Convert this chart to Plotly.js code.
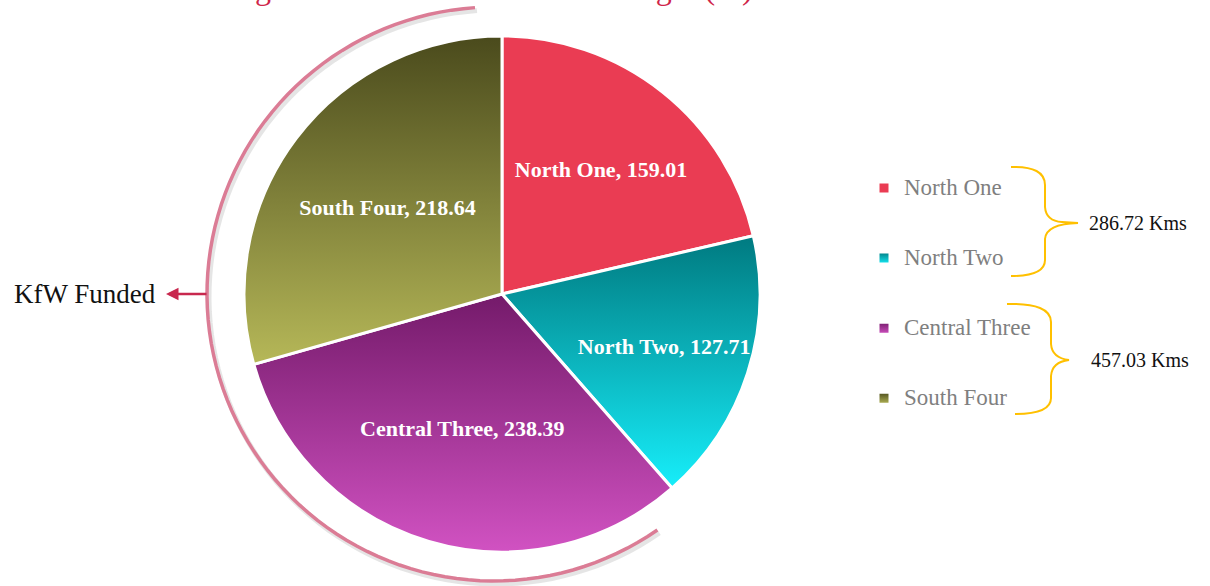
<!DOCTYPE html>
<html><head><meta charset="utf-8">
<script src="https://cdn.plot.ly/plotly-3.0.1.min.js"></script>
<style>html,body{margin:0;padding:0;background:#fff;} #chart{width:1210px;height:586px;}</style>
</head><body><div id="chart"></div>
<script>
// ---- data ----
const categories = ["North One", "North Two", "Central Three", "South Four"];
const values = [159.01, 127.71, 238.39, 218.64];
const colorsTop = ["#EA3C53", "#007A80", "#741A6A", "#4A4A1C"];
const colorsBottom = ["#EA3C53", "#17EEFA", "#D152C2", "#B6B858"];
const groupTotals = ["286.72 Kms", "457.03 Kms"];
const titleText = "Segment Wise Share of Road Length (%)";
const sideLabel = "KfW Funded";

// ---- helpers ----
const W = 1210, H = 586;
const X = x => x / W, Y = y => 1 - y / H;
const SERIF = "Liberation Serif, Times New Roman, serif";
function hex2rgb(h){h=h.replace('#','');return [0,2,4].map(k=>parseInt(h.substr(k,2),16));}
function mid(a,b){const A=hex2rgb(a),B=hex2rgb(b);return 'rgb('+A.map((v,k)=>Math.round((v+B[k])/2)).join(',')+')';}
const midColors = colorsTop.map((c,i)=>mid(c,colorsBottom[i]));
const legendLabels = categories.map(c => "\u00a0<br><span style='font-size:23px'>" + c + "</span><br>\u00a0");

// arc path (pixel geometry -> paper)
function arcPath(cx, cy, r, a0, a1, dx, dy){
  const n = 90; let s = '';
  for(let k=0;k<=n;k++){
    const a = (a0 + (a1-a0)*k/n) * Math.PI/180;
    const x = cx + r*Math.cos(a) + (dx||0), y = cy + r*Math.sin(a) + (dy||0);
    s += (k===0?'M':'L') + X(x).toFixed(5) + ',' + Y(y).toFixed(5) + ' ';
  }
  return s;
}
function P(pts){
  return pts.map(p => p[0] + p.slice(1).reduce((acc,v,j)=>{acc.push(j%2===0?X(v).toFixed(5):Y(v).toFixed(5));return acc;},[]).join(',')).join(' ');
}
const brace1 = P([['M',1011,167],['Q',1045,166,1045,185],['L',1045,207],['Q',1046,221,1062,222],['L',1078,223],['Q',1046,224,1045,239],['L',1045,260],['Q',1045,276,1011,276]]);
const brace2 = P([['M',1007,304],['Q',1051,303,1051,322],['L',1051,344],['Q',1052,358,1069,360],['Q',1052,362,1051,376],['L',1051,398],['Q',1051,414,1015,414]]);

const trace = {
  type: 'pie',
  labels: legendLabels,
  values: values,
  text: categories,
  texttemplate: '%{text}, %{value:.2f}',
  textposition: 'inside',
  insidetextorientation: 'horizontal',
  sort: false,
  direction: 'clockwise',
  rotation: 0,
  marker: {colors: midColors, line: {color: '#ffffff', width: 3}},
  textfont: {family: SERIF, size: 22, color: '#ffffff', weight: 'bold'},
  domain: {x: [X(244), X(760)], y: [Y(552), Y(36)]},
  hoverinfo: 'skip',
  showlegend: true
};

const layout = {
  width: W, height: H,
  margin: {l:0, r:0, t:0, b:0},
  paper_bgcolor: '#ffffff',
  showlegend: true,
  legend: {x: X(864), xanchor: 'left', y: Y(148), yanchor: 'top',
           font: {family: SERIF, size: 17.2, color: '#7f7f7f'}, bgcolor: 'rgba(0,0,0,0)'},
  shapes: [
    {type:'path', xref:'paper', yref:'paper', path: arcPath(494,294,287,266.2,55.3,2,3), line:{color:'rgba(0,0,0,0.10)', width:5}},
    {type:'path', xref:'paper', yref:'paper', path: arcPath(494,294,287,266.2,55.3), line:{color:'#DB7C95', width:3.5}},
    {type:'path', xref:'paper', yref:'paper', path: brace1, line:{color:'#FFC000', width:2}},
    {type:'path', xref:'paper', yref:'paper', path: brace2, line:{color:'#FFC000', width:2}}
  ],
  annotations: [
    {xref:'paper', yref:'paper', x: X(488), y: 1, xanchor:'center', yanchor:'bottom', yshift:-8,
     text: titleText, showarrow:false, font:{family: SERIF, size:32, color:'#D0254A'}},
    {xref:'paper', yref:'paper', x: X(166), y: Y(294), ax: 42, ay: 0, text:'', showarrow:true,
     arrowhead:2, arrowsize:1, arrowwidth:2.5, arrowcolor:'#C8284E', standoff:0, startstandoff:0},
    {xref:'paper', yref:'paper', x: X(158), y: Y(294), xanchor:'right', yanchor:'middle', text: sideLabel,
     showarrow:false, font:{family: SERIF, size:27, color:'#111111'}},
    {xref:'paper', yref:'paper', x: X(1087), y: Y(223), xanchor:'left', yanchor:'middle', text: groupTotals[0],
     showarrow:false, font:{family: SERIF, size:20, color:'#111111'}},
    {xref:'paper', yref:'paper', x: X(1089), y: Y(360), xanchor:'left', yanchor:'middle', text: groupTotals[1],
     showarrow:false, font:{family: SERIF, size:20, color:'#111111'}}
  ]
};

function applyGradients(gd){
  const NS = 'http://www.w3.org/2000/svg';
  const svg = gd.querySelector('svg.main-svg');
  let defs = svg.querySelector('defs');
  if(!defs){ defs = document.createElementNS(NS,'defs'); svg.insertBefore(defs, svg.firstChild); }
  categories.forEach((c,i) => {
    const lg = document.createElementNS(NS,'linearGradient');
    lg.setAttribute('id','sliceGrad'+i);
    lg.setAttribute('x1','0'); lg.setAttribute('y1','0'); lg.setAttribute('x2','0'); lg.setAttribute('y2','1');
    [[0,colorsTop[i]],[1,colorsBottom[i]]].forEach(([o,col]) => {
      const st = document.createElementNS(NS,'stop');
      st.setAttribute('offset', String(o)); st.setAttribute('stop-color', col);
      lg.appendChild(st);
    });
    defs.appendChild(lg);
  });
  gd.querySelectorAll('g.slice').forEach((g,k) => {
    const d = g.__data__; const i = (d && typeof d.i === 'number') ? d.i : k;
    const p = g.querySelector('path.surface');
    if(p) p.style.fill = 'url(#sliceGrad'+i+')';
  });
  gd.querySelectorAll('g.legend g.traces').forEach((g,k) => {
    const d = g.__data__; let i = k;
    if(d && d[0] && typeof d[0].i === 'number') i = d[0].i;
    g.querySelectorAll('g.legendpoints path').forEach(p => { p.style.fill = 'url(#sliceGrad'+i+')'; });
  });
}

Plotly.newPlot('chart', [trace], layout, {displayModeBar:false, staticPlot:true}).then(applyGradients);
</script>
</body></html>
